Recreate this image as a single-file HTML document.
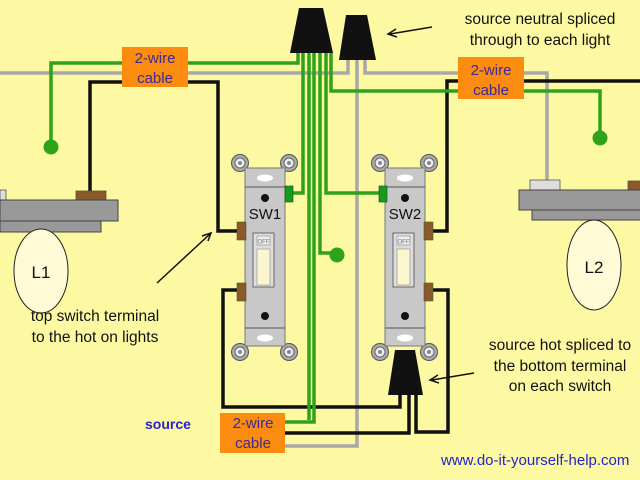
<!DOCTYPE html>
<html><head><style>
html,body{margin:0;padding:0;background:#fdf9a2;}
svg{display:block}
text{font-family:"Liberation Sans",sans-serif;}
</style></head><body>
<svg width="640" height="480" viewBox="0 0 640 480" xmlns="http://www.w3.org/2000/svg">
<defs>
<g id="sw">
  <circle cx="0" cy="0" r="8.5" fill="#aaa" stroke="#555"/><circle cx="0" cy="0" r="5" fill="#eee" stroke="#666"/><circle cx="0" cy="0" r="2" fill="#888"/>
  <circle cx="49" cy="0" r="8.5" fill="#aaa" stroke="#555"/><circle cx="49" cy="0" r="5" fill="#eee" stroke="#666"/><circle cx="49" cy="0" r="2" fill="#888"/>
  <circle cx="0" cy="189" r="8.5" fill="#aaa" stroke="#555"/><circle cx="0" cy="189" r="5" fill="#eee" stroke="#666"/><circle cx="0" cy="189" r="2" fill="#888"/>
  <circle cx="49" cy="189" r="8.5" fill="#aaa" stroke="#555"/><circle cx="49" cy="189" r="5" fill="#eee" stroke="#666"/><circle cx="49" cy="189" r="2" fill="#888"/>
  <rect x="5" y="5" width="40" height="178" fill="#c8c8c8" stroke="#777"/>
  <line x1="5" y1="24" x2="45" y2="24" stroke="#555"/>
  <line x1="5" y1="165" x2="45" y2="165" stroke="#555"/>
  <ellipse cx="25" cy="15" rx="8" ry="3.5" fill="#fff"/>
  <ellipse cx="25" cy="175" rx="8" ry="3.5" fill="#fff"/>
  <circle cx="25" cy="35" r="4" fill="#111"/>
  <circle cx="25" cy="153" r="4" fill="#111"/>
  <rect x="13" y="70" width="21" height="54" fill="#ddd" stroke="#666"/>
  <rect x="17" y="73" width="13" height="9" fill="#eee" stroke="#888" stroke-width="0.6"/>
  <text x="23.5" y="80.5" font-size="6" text-anchor="middle" fill="#777">OFF</text>
  <rect x="17" y="86" width="13" height="36" fill="#fbf6d0" stroke="#888" stroke-width="0.6"/>
</g>
</defs>
<rect width="640" height="480" fill="#fdf9a2"/>

<g fill="none" stroke-width="3.5" stroke-linejoin="miter">
  <polyline points="0,73 348,73 348,58" stroke="#a8a8a8"/>
  <polyline points="357,58 357,446 285,446" stroke="#a8a8a8"/>
  <polyline points="365,58 365,73 547,73 547,182" stroke="#a8a8a8"/>
  <polyline points="90,193 90,82 218,82 218,231 240,231" stroke="#111"/>
  <polyline points="430,231 447,231 447,81 640,81" stroke="#111"/>
  <polyline points="400,395 400,407 223,407 223,290 240,290" stroke="#111"/>
  <polyline points="285,433 409,433 409,395" stroke="#111"/>
  <polyline points="416,395 416,432 448,432 448,290 430,290" stroke="#111"/>
  <polyline points="51,145 51,63 298,63 298,52" stroke="#2ea31a"/>
  <polyline points="293,193 303,193 303,52" stroke="#2ea31a"/>
  <line x1="309" y1="52" x2="309" y2="420" stroke="#2ea31a"/>
  <polyline points="285,422 314,422 314,52" stroke="#2ea31a"/>
  <polyline points="320,52 320,253 333,253" stroke="#2ea31a"/>
  <polyline points="383,193 326,193 326,52" stroke="#2ea31a"/>
  <polyline points="331,52 331,91 600,91 600,136" stroke="#2ea31a"/>
</g>
<circle cx="51" cy="147" r="7.5" fill="#2ea31a"/>
<circle cx="337" cy="255" r="7.5" fill="#2ea31a"/>
<circle cx="600" cy="138" r="7.5" fill="#2ea31a"/>

<polygon points="299,8 323,8 333,53 290,53" fill="#111"/>
<polygon points="346,15 367,15 376,60 339,60" fill="#111"/>
<polygon points="395,350 415,350 423,395 388,395" fill="#111"/>

<rect x="0" y="190" width="6" height="10" fill="#ddd" stroke="#555" stroke-width="0.8"/>
<rect x="76" y="191" width="30" height="10" fill="#8b5a2b" stroke="#553" stroke-width="0.8"/>
<rect x="0" y="200" width="118" height="21" fill="#999" stroke="#444"/>
<rect x="0" y="221" width="101" height="11" fill="#999" stroke="#444"/>
<ellipse cx="41" cy="271" rx="27" ry="42" fill="#fefbd6" stroke="#222"/>
<text x="41" y="278" font-size="17" text-anchor="middle" fill="#111">L1</text>

<rect x="530" y="180" width="30" height="10" fill="#ddd" stroke="#555" stroke-width="0.8"/>
<rect x="628" y="181" width="14" height="9" fill="#8b5a2b" stroke="#553" stroke-width="0.8"/>
<rect x="519" y="190" width="123" height="20" fill="#999" stroke="#444"/>
<rect x="532" y="210" width="110" height="10" fill="#999" stroke="#444"/>
<ellipse cx="594" cy="265" rx="27" ry="45" fill="#fefbd6" stroke="#222"/>
<text x="594" y="273" font-size="17" text-anchor="middle" fill="#111">L2</text>

<use href="#sw" x="240" y="163"/>
<use href="#sw" x="380" y="163"/>
<rect x="237" y="222" width="9" height="18" fill="#8b5a2b" stroke="#553" stroke-width="0.6"/>
<rect x="237" y="283" width="9" height="18" fill="#8b5a2b" stroke="#553" stroke-width="0.6"/>
<rect x="285" y="186" width="8" height="16" fill="#1a9a1a" stroke="#143" stroke-width="0.6"/>
<rect x="424" y="222" width="9" height="18" fill="#8b5a2b" stroke="#553" stroke-width="0.6"/>
<rect x="424" y="283" width="9" height="18" fill="#8b5a2b" stroke="#553" stroke-width="0.6"/>
<rect x="379" y="186" width="8" height="16" fill="#1a9a1a" stroke="#143" stroke-width="0.6"/>
<text x="265" y="219" font-size="15" text-anchor="middle" fill="#111">SW1</text>
<text x="405" y="219" font-size="15" text-anchor="middle" fill="#111">SW2</text>

<rect x="122" y="47" width="66" height="40" fill="#fb8c10"/>
<text x="155" y="63" font-size="15" text-anchor="middle" fill="#3a2a9a">2-wire</text>
<text x="155" y="83" font-size="15" text-anchor="middle" fill="#3a2a9a">cable</text>
<rect x="458" y="57" width="66" height="42" fill="#fb8c10"/>
<text x="491" y="75" font-size="15" text-anchor="middle" fill="#3a2a9a">2-wire</text>
<text x="491" y="95" font-size="15" text-anchor="middle" fill="#3a2a9a">cable</text>
<rect x="220" y="413" width="65" height="40" fill="#fb8c10"/>
<text x="253" y="428" font-size="15" text-anchor="middle" fill="#3a2a9a">2-wire</text>
<text x="253" y="448" font-size="15" text-anchor="middle" fill="#3a2a9a">cable</text>

<g font-size="15.5" fill="#111" text-anchor="middle">
<text x="540" y="24">source neutral spliced</text>
<text x="540" y="45">through to each light</text>
<text x="95" y="321">top switch terminal</text>
<text x="95" y="342">to the hot on lights</text>
<text x="560" y="350">source hot spliced to</text>
<text x="560" y="371">the bottom terminal</text>
<text x="560" y="391">on each switch</text>
</g>
<g stroke="#111" stroke-width="1.5" fill="none">
<line x1="432" y1="27" x2="390" y2="34"/><polyline points="396,29 388,34 397,37"/>
<line x1="157" y1="283" x2="210" y2="234"/><polyline points="202,236 211,233 208,241"/>
<line x1="474" y1="373" x2="432" y2="380"/><polyline points="438,375 430,380 439,383"/>
</g>
<text x="145" y="429" font-size="14" font-weight="bold" fill="#2323d0">source</text>
<text x="441" y="465" font-size="15" fill="#2323d0">www.do-it-yourself-help.com</text>
</svg>
</body></html>
